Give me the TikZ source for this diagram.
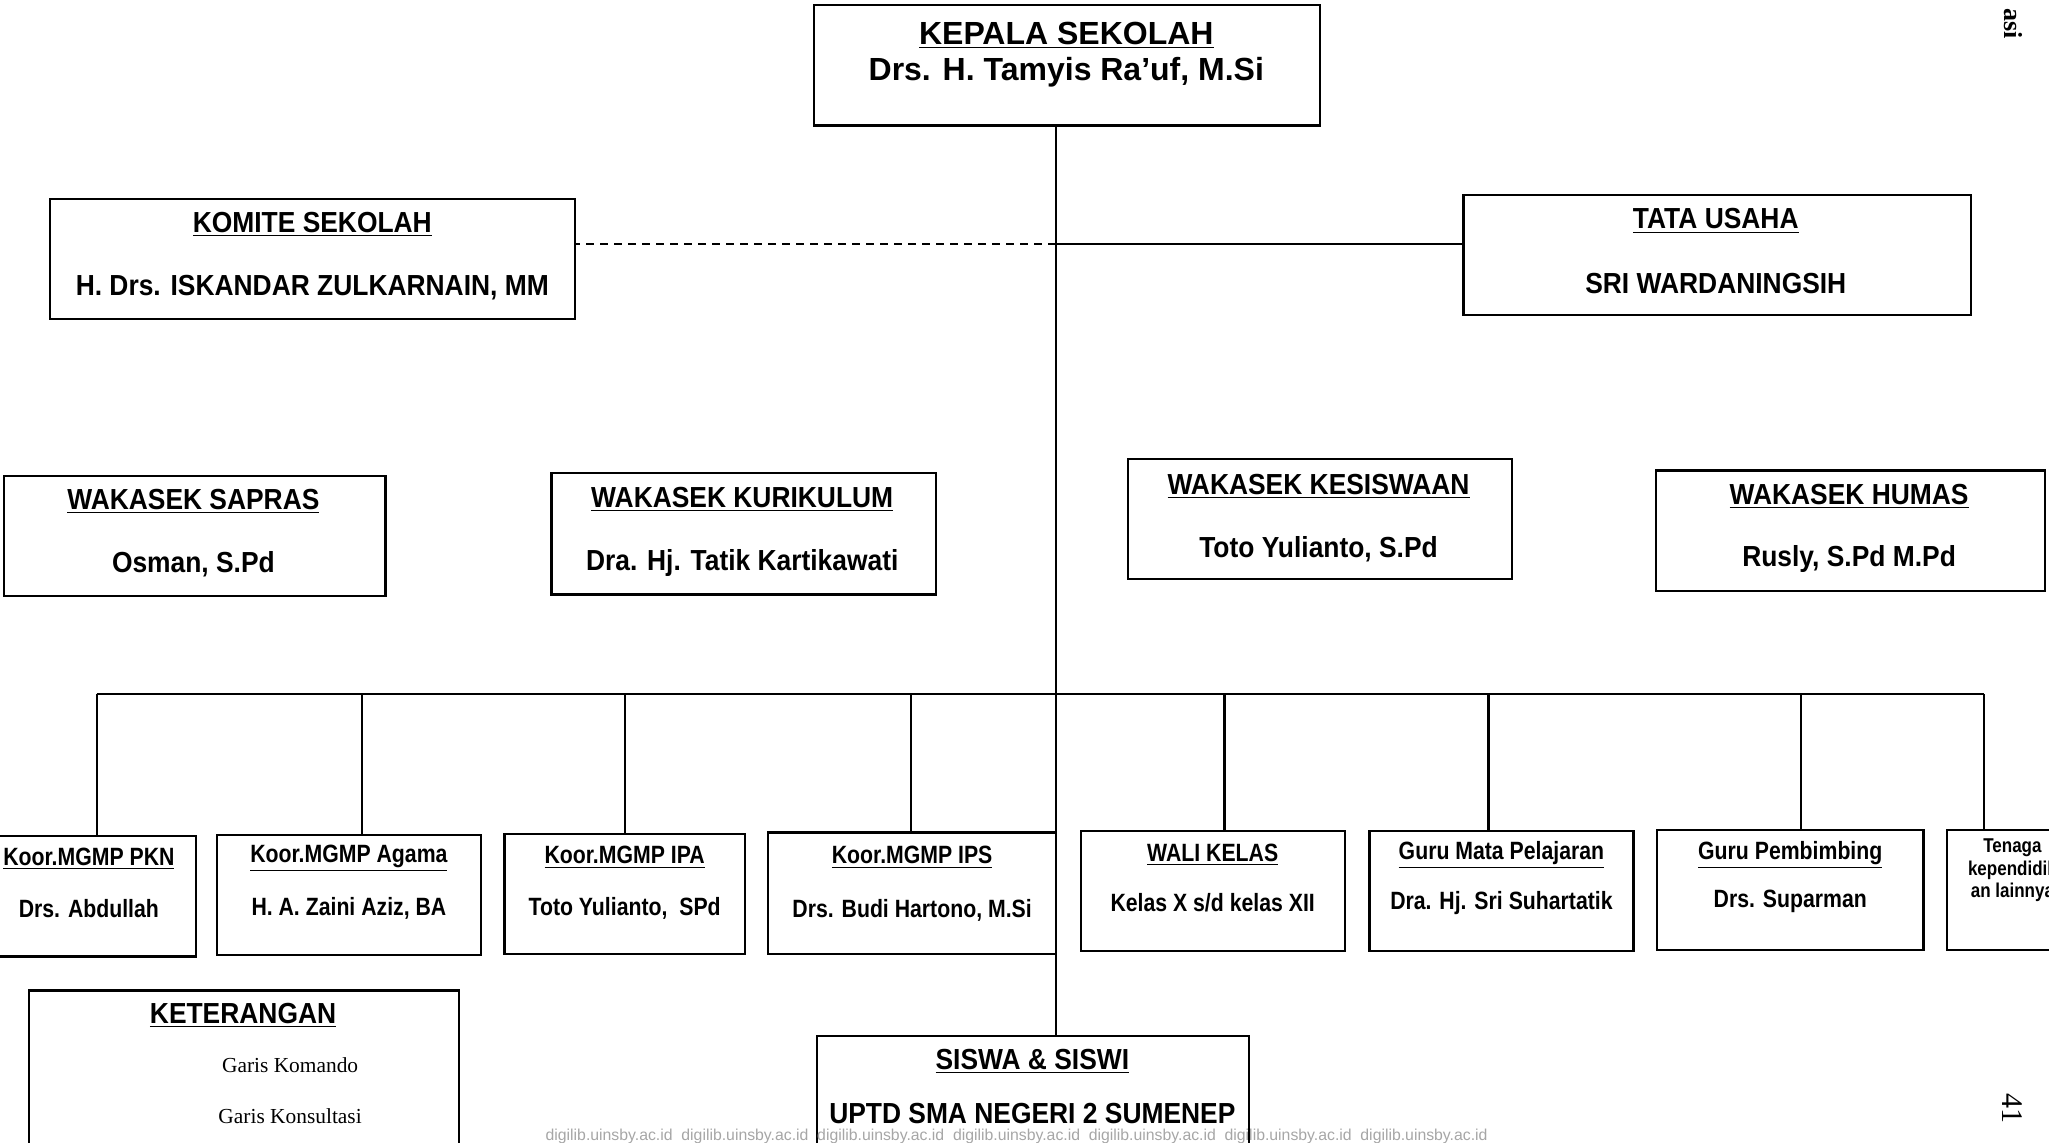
\documentclass[tikz,border=0pt]{standalone}
\usepackage{fontspec}
\setmainfont{Liberation Sans}
\newfontfamily\fA{Liberation Sans}[FakeStretch=1.0]
\newfontfamily\fB{Liberation Sans}[FakeStretch=0.91]
\newfontfamily\fC{Liberation Sans}[FakeStretch=0.85]
\newfontfamily\fS{Liberation Serif}
\usetikzlibrary{fit}
\begin{document}
\begin{tikzpicture}[x=0.6534pt,y=-0.6534pt,
  box/.style={draw,line width=1.1pt,inner sep=0pt},
  link/.style={line width=1.1pt},
  ttop/.style={font=\fA\bfseries\fontsize{16}{18}\selectfont,inner sep=0pt},
  tmid/.style={font=\fB\bfseries\fontsize{14.5}{16}\selectfont,inner sep=0pt},
  tlow/.style={font=\fC\bfseries\fontsize{12.5}{14}\selectfont,inner sep=0pt},
  ttiny/.style={font=\fC\bfseries\fontsize{10}{11}\selectfont,inner sep=0pt},
  tleg/.style={font=\fS\fontsize{10.7}{12}\selectfont,inner sep=0pt},
  tmark/.style={font=\fontsize{7.9}{8}\selectfont,text=gray!70,inner sep=0pt}]
\useasboundingbox (0,0) rectangle (1568,874);
\clip (0,0) rectangle (1568,874);
% boxes
\node[box,fit={(623,4) (1010,96)}] (kepala) {};
\node[box,fit={(38,152) (440,244)}] (komite) {};
\node[box,fit={(1120,149) (1508,241)}] (tata) {};
\node[box,fit={(3,364) (295,456)}] (sapras) {};
\node[box,fit={(422,362) (716,455)}] (kurikulum) {};
\node[box,fit={(863,351) (1157,443)}] (kesiswaan) {};
\node[box,fit={(1267,360) (1565,452)}] (humas) {};
\node[box,fit={(-5,640) (150,732)}] (pkn) {};
\node[box,fit={(166,639) (368,731)}] (agama) {};
\node[box,fit={(386,638) (570,730)}] (ipa) {};
\node[box,fit={(588,637) (808,730)}] (ips) {};
\node[box,fit={(827,636) (1029,728)}] (wali) {};
\node[box,fit={(1048,636) (1250,728)}] (mapel) {};
\node[box,fit={(1268,635) (1472,727)}] (pembimbing) {};
\node[box,fit={(1490,635) (1600,727)}] (tenaga) {};
\node[box,fit={(22,758) (351,900)}] (keterangan) {};
\node[box,fit={(625,793) (956,900)}] (siswa) {};
% texts
\node[ttop] (t1a) at (816,27) {\underline{KEPALA SEKOLAH}};
\node[ttop] (t1b) at (816,55) {Drs. H. Tamyis Ra’uf, M.Si};
\node[tmid] (t2a) at (239,172) {\underline{KOMITE SEKOLAH}};
\node[tmid] (t2b) at (239,220) {H. Drs. ISKANDAR ZULKARNAIN, MM};
\node[tmid] (t3a) at (1313,169) {\underline{TATA USAHA}};
\node[tmid] (t3b) at (1313,217) {SRI WARDANINGSIH};
\node[tmid] (t4a) at (148,384) {\underline{WAKASEK SAPRAS}};
\node[tmid] (t4b) at (148,432) {Osman, S.Pd};
\node[tmid] (t5a) at (568,382) {\underline{WAKASEK KURIKULUM}};
\node[tmid] (t5b) at (568,431) {Dra. Hj. Tatik Kartikawati};
\node[tmid] (t6a) at (1009,372) {\underline{WAKASEK KESISWAAN}};
\node[tmid] (t6b) at (1009,420) {Toto Yulianto, S.Pd};
\node[tmid] (t7a) at (1415,380) {\underline{WAKASEK HUMAS}};
\node[tmid] (t7b) at (1415,428) {Rusly, S.Pd M.Pd};
\node[tlow] (t8a) at (68,657) {\underline{Koor.MGMP PKN}};
\node[tlow] (t8b) at (68,695) {Drs. Abdullah};
\node[tlow] (t9a) at (267,657) {\underline{Koor.MGMP Agama}};
\node[tlow] (t9b) at (267,695) {H. A. Zaini Aziz, BA};
\node[tlow] (t10a) at (478,656) {\underline{Koor.MGMP IPA}};
\node[tlow] (t10b) at (478,695) {Toto Yulianto,\ \ SPd};
\node[tlow] (t11a) at (698,656) {\underline{Koor.MGMP IPS}};
\node[tlow] (t11b) at (698,697) {Drs. Budi Hartono, M.Si};
\node[tlow] (t12a) at (928,654) {\underline{WALI KELAS}};
\node[tlow] (t12b) at (928,691) {Kelas X s/d kelas XII};
\node[tlow] (t13a) at (1149,654) {\underline{Guru Mata Pelajaran}};
\node[tlow] (t13b) at (1149,691) {Dra. Hj. Sri Suhartatik};
\node[tlow] (t14a) at (1370,654) {\underline{Guru Pembimbing}};
\node[tlow] (t14b) at (1370,690) {Drs. Suparman};
\node[ttiny] (t15a) at (1540,649) {Tenaga};
\node[ttiny] (t15b) at (1540,666) {kependidik};
\node[ttiny] (t15c) at (1540,683) {an lainnya};
\node[tmid] (t16a) at (186,777) {\underline{KETERANGAN}};
\node[tleg] (t16b) at (222,815) {Garis Komando};
\node[tleg] (t16c) at (222,854) {Garis Konsultasi};
\node[tmid] (t17a) at (790,812) {\underline{SISWA \& SISWI}};
\node[tmid] (t17b) at (790,852) {UPTD SMA NEGERI 2 SUMENEP};
\node[font=\fS\bfseries\fontsize{13}{14}\selectfont,rotate=-90,anchor=east,inner sep=0pt] (pg1) at (1541,30) {asi};
\node[font=\fS\fontsize{15}{16}\selectfont,rotate=-90,inner sep=0pt] (pg2) at (1540,848) {41};
\node[tmark] (wm) at (778,870) {digilib.uinsby.ac.id\ \ digilib.uinsby.ac.id\ \ digilib.uinsby.ac.id\ \ digilib.uinsby.ac.id\ \ digilib.uinsby.ac.id\ \ digilib.uinsby.ac.id\ \ digilib.uinsby.ac.id};
% connectors
\coordinate (j1) at (808,187);
\coordinate (d1) at (74,531);
\coordinate (d2) at (277,531);
\coordinate (d3) at (478,531);
\coordinate (d4) at (697,531);
\coordinate (d5) at (937,531);
\coordinate (d6) at (1139,531);
\coordinate (d7) at (1378,531);
\coordinate (d8) at (1518,531);
\draw[link] (kepala.south -| j1) -- (siswa.north -| j1);
\draw[link,dashed,dash pattern=on 4pt off 3pt] (j1) -- (j1 -| komite.east);
\draw[link] (j1) -- (j1 -| tata.west);
\draw[link] (d1) -- (d8);
\draw[link] (d1) -- (d1 |- pkn.north);
\draw[link] (d2) -- (d2 |- agama.north);
\draw[link] (d3) -- (d3 |- ipa.north);
\draw[link] (d4) -- (d4 |- ips.north);
\draw[link] (d5) -- (d5 |- wali.north);
\draw[link] (d6) -- (d6 |- mapel.north);
\draw[link] (d7) -- (d7 |- pembimbing.north);
\draw[link] (d8) -- (d8 |- tenaga.north);
\end{tikzpicture}
\end{document}
